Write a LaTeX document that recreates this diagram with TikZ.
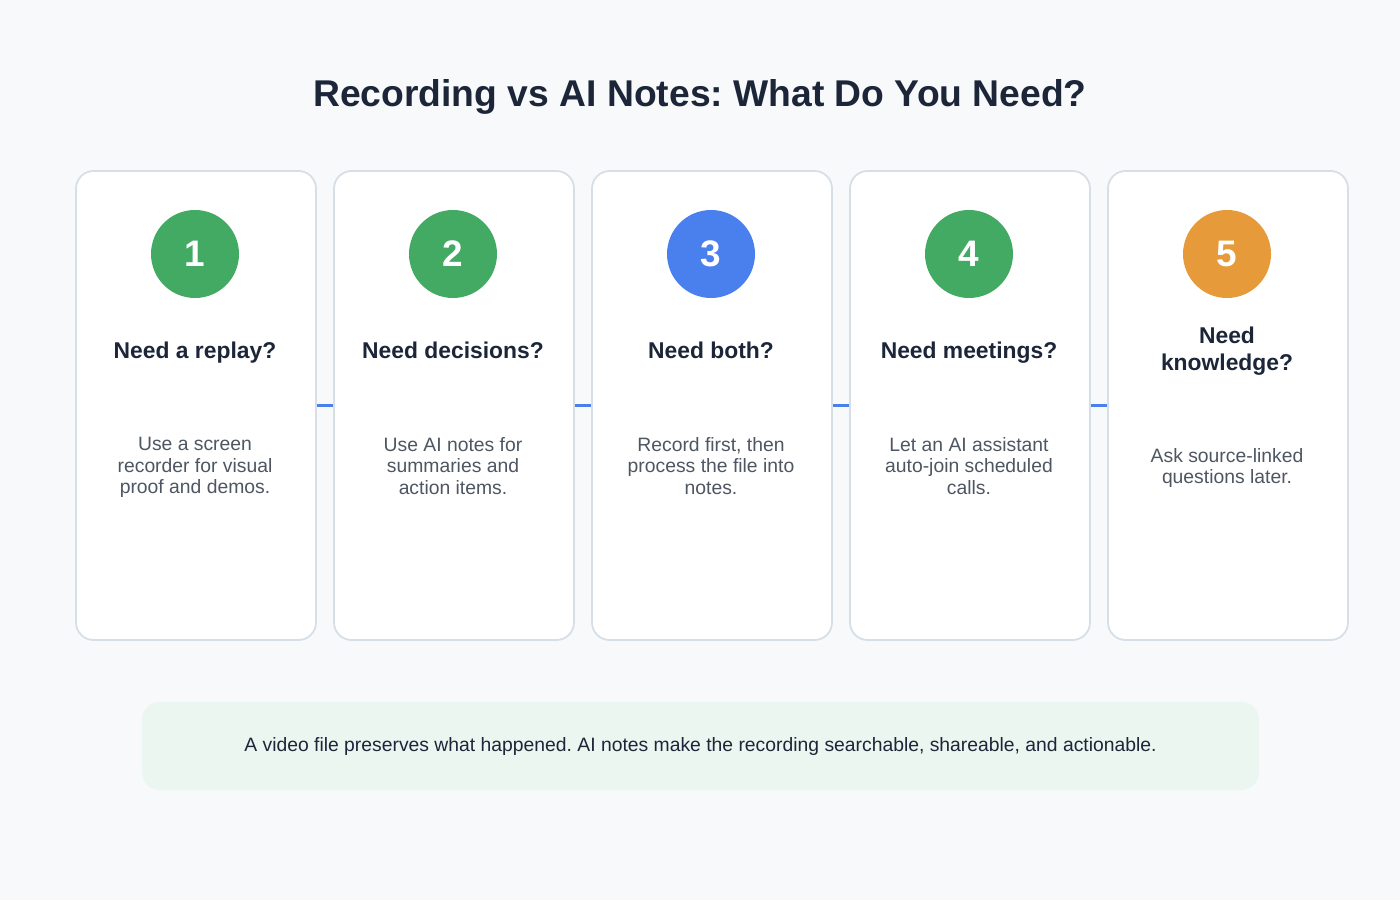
\documentclass[tikz,border=0pt]{standalone}
\usepackage{fontspec}
\setmainfont{Liberation Sans}
\usetikzlibrary{arrows.meta,positioning,backgrounds}
\definecolor{paper}{RGB}{247,249,251}
\definecolor{rim}{RGB}{214,222,230}
\definecolor{leaf}{RGB}{67,170,99}
\definecolor{sky}{RGB}{74,128,238}
\definecolor{amber}{RGB}{230,154,58}
\definecolor{mint}{RGB}{236,246,240}
\definecolor{ink}{RGB}{28,38,56}
\definecolor{slate}{RGB}{78,86,98}
\frenchspacing
\tikzset{
  >={Stealth[length=2.4mm,width=4mm]},
  card/.style={draw=rim,fill=white,line width=1pt,rounded corners=10pt,
    minimum width=48mm,minimum height=93.8mm},
  badge/.style={circle,fill=#1,text=white,minimum size=17.6mm,inner sep=0pt,
    font=\fontsize{21}{21}\selectfont\bfseries},
  badge/.default=leaf,
  head/.style={text=ink,align=center,font=\fontsize{13}{15.4}\selectfont\bfseries},
  body/.style={text=slate,align=center,font=\fontsize{11}{12.2}\selectfont,
    execute at begin node=\strut,execute at end node=\strut},
  link/.style={->,line width=2pt,draw=sky},
}

\begin{document}
\begin{tikzpicture}
  \useasboundingbox (0,0) rectangle (28,18);
  \begin{pgfonlayer}{background}
    \fill[paper] (0,0) rectangle (28,18);
  \end{pgfonlayer}
  \node[anchor=base,text=ink,font=\fontsize{21.2}{24}\selectfont\bfseries] (title) at (14,15.86) {Recording vs AI Notes: What Do You Need?};
  % the five cards
  \node[card] (c1) at (3.92,9.89) {};
  \node[card] (c2) at (9.08,9.89) {};
  \node[card] (c3) at (14.24,9.89) {};
  \node[card] (c4) at (19.40,9.89) {};
  \node[card] (c5) at (24.56,9.89) {};
  \node[badge] (n1) at (3.90,12.92) {1};
  \node[badge] (n2) at (9.06,12.92) {2};
  \node[badge=sky] (n3) at (14.22,12.92) {3};
  \node[badge] (n4) at (19.38,12.92) {4};
  \node[badge=amber] (n5) at (24.54,12.92) {5};
  \node[head,anchor=base] (h1) at (3.90,10.84) {Need a replay?};
  \node[head,anchor=base] (h2) at (9.06,10.84) {Need decisions?};
  \node[head,anchor=base] (h3) at (14.22,10.84) {Need both?};
  \node[head,anchor=base] (h4) at (19.38,10.84) {Need meetings?};
  \node[head,execute at begin node=\strut,execute at end node=\strut] (h5) at (24.54,10.95) {Need\\knowledge?};
  \node[body] (b1) at (3.90,8.62) {Use a screen\\recorder for visual\\proof and demos.};
  \node[body] (b2) at (9.06,8.62) {Use AI notes for\\summaries and\\action items.};
  \node[body] (b3) at (14.22,8.62) {Record first, then\\process the file into\\notes.};
  \node[body] (b4) at (19.38,8.62) {Let an AI assistant\\auto-join scheduled\\calls.};
  \node[body] (b5) at (24.54,8.62) {Ask source-linked\\questions later.};
  \begin{pgfonlayer}{background}
    \draw[link] (c1.east) -- ([xshift=3mm]c2.west);
    \draw[link] (c2.east) -- ([xshift=3mm]c3.west);
    \draw[link] (c3.east) -- ([xshift=3mm]c4.west);
    \draw[link] (c4.east) -- ([xshift=3mm]c5.west);
  \end{pgfonlayer}
  % bottom note
  \node[fill=mint,rounded corners=10pt,minimum width=223.4mm,minimum height=17.6mm,
    text=ink,font=\fontsize{11}{12}\selectfont] (note) at (14.01,3.08)
    {A video file preserves what happened. AI notes make the recording searchable, shareable, and actionable.};
\end{tikzpicture}
\end{document}
